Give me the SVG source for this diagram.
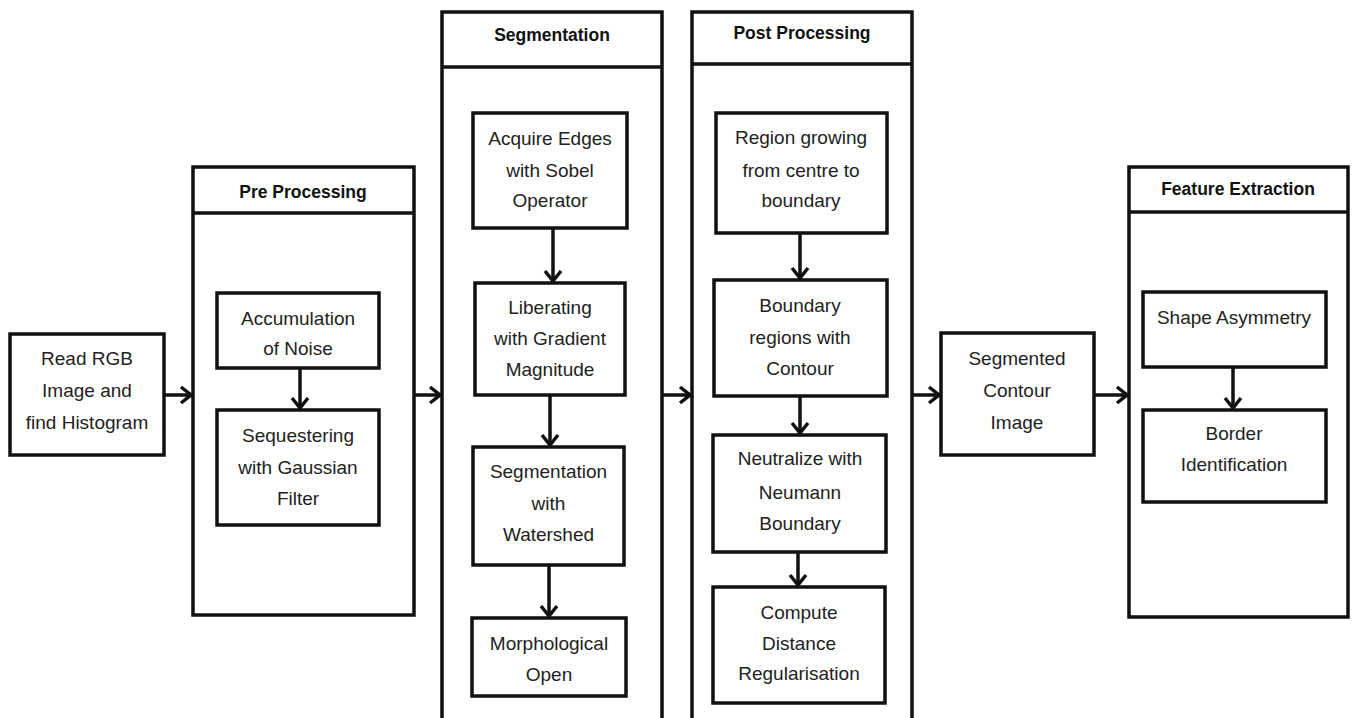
<svg xmlns="http://www.w3.org/2000/svg" width="1352" height="718" viewBox="0 0 1352 718">
<style>
.box{fill:#fff;stroke:#111;stroke-width:3.5}
.cont{fill:#fff;stroke:#111;stroke-width:3.5}
.t{font-family:"Liberation Sans",Arial,sans-serif;font-size:19px;fill:#222;text-anchor:middle}
.h{font-family:"Liberation Sans",Arial,sans-serif;font-size:17.5px;font-weight:bold;fill:#111;text-anchor:middle}
.c{fill:none;stroke:#111;stroke-width:3.5}
</style>
<defs>
<marker id="ah" viewBox="0 0 14 20" refX="12" refY="10" markerWidth="14" markerHeight="20" markerUnits="userSpaceOnUse" orient="auto">
<path d="M2,2 L12,10 L2,18" fill="none" stroke="#111" stroke-width="3.5"/>
</marker>
</defs>
<rect width="1352" height="718" fill="#fff"/>

<g id="read">
<rect class="box" x="10" y="334" width="154" height="121"/>
<text class="t" x="87" y="365">Read RGB</text>
<text class="t" x="87" y="397">Image and</text>
<text class="t" x="87" y="429">find Histogram</text>
</g>

<g id="preprocessing">
<rect class="cont" x="193" y="167" width="221" height="448"/>
<line class="cont" x1="193" y1="213" x2="414" y2="213"/>
<text class="h" x="303" y="198">Pre Processing</text>
</g>
<g id="accumulation">
<rect class="box" x="217" y="293" width="162" height="75"/>
<text class="t" x="298" y="325">Accumulation</text>
<text class="t" x="298" y="355">of Noise</text>
</g>
<g id="sequestering">
<rect class="box" x="217" y="410" width="162" height="115"/>
<text class="t" x="298" y="442">Sequestering</text>
<text class="t" x="298" y="474">with Gaussian</text>
<text class="t" x="298" y="505">Filter</text>
</g>

<g id="segmentation">
<path class="cont" d="M442,725 V12 H662 V725"/>
<line class="cont" x1="442" y1="67" x2="662" y2="67"/>
<text class="h" x="552" y="41">Segmentation</text>
</g>
<g id="acquire">
<rect class="box" x="473" y="113" width="154" height="115"/>
<text class="t" x="550" y="145">Acquire Edges</text>
<text class="t" x="550" y="177">with Sobel</text>
<text class="t" x="550" y="207">Operator</text>
</g>
<g id="liberating">
<rect class="box" x="475" y="283" width="150" height="112"/>
<text class="t" x="550" y="314">Liberating</text>
<text class="t" x="550" y="345">with Gradient</text>
<text class="t" x="550" y="376">Magnitude</text>
</g>
<g id="watershed">
<rect class="box" x="473" y="447" width="151" height="118"/>
<text class="t" x="548.5" y="478">Segmentation</text>
<text class="t" x="548.5" y="510">with</text>
<text class="t" x="548.5" y="541">Watershed</text>
</g>
<g id="morphological">
<rect class="box" x="472" y="618" width="154" height="78"/>
<text class="t" x="549" y="650">Morphological</text>
<text class="t" x="549" y="681">Open</text>
</g>

<g id="postprocessing">
<path class="cont" d="M692,725 V12 H912 V725"/>
<line class="cont" x1="692" y1="64" x2="912" y2="64"/>
<text class="h" x="802" y="39">Post Processing</text>
</g>
<g id="region">
<rect class="box" x="716" y="113" width="171" height="120"/>
<text class="t" x="801" y="144">Region growing</text>
<text class="t" x="801" y="177">from centre to</text>
<text class="t" x="801" y="207">boundary</text>
</g>
<g id="boundary">
<rect class="box" x="714" y="280" width="173" height="116"/>
<text class="t" x="800" y="312">Boundary</text>
<text class="t" x="800" y="344">regions with</text>
<text class="t" x="800" y="375">Contour</text>
</g>
<g id="neutralize">
<rect class="box" x="713" y="435" width="173" height="117"/>
<text class="t" x="800" y="465">Neutralize with</text>
<text class="t" x="800" y="499">Neumann</text>
<text class="t" x="800" y="530">Boundary</text>
</g>
<g id="compute">
<rect class="box" x="713" y="587" width="172" height="116"/>
<text class="t" x="799" y="619">Compute</text>
<text class="t" x="799" y="650">Distance</text>
<text class="t" x="799" y="680">Regularisation</text>
</g>

<g id="segmented">
<rect class="box" x="941" y="333" width="153" height="122"/>
<text class="t" x="1017" y="365">Segmented</text>
<text class="t" x="1017" y="397">Contour</text>
<text class="t" x="1017" y="429">Image</text>
</g>

<g id="feature">
<rect class="cont" x="1129" y="167" width="219" height="450"/>
<line class="cont" x1="1129" y1="212" x2="1348" y2="212"/>
<text class="h" x="1238" y="195">Feature Extraction</text>
</g>
<g id="shape">
<rect class="box" x="1143" y="292" width="183" height="75"/>
<text class="t" x="1234" y="324">Shape Asymmetry</text>
</g>
<g id="border">
<rect class="box" x="1143" y="410" width="183" height="92"/>
<text class="t" x="1234" y="440">Border</text>
<text class="t" x="1234" y="471">Identification</text>
</g>

<g id="connectors" class="c" marker-end="url(#ah)">
<line x1="164" y1="395" x2="191" y2="395"/>
<line x1="414" y1="395" x2="440" y2="395"/>
<line x1="662" y1="395" x2="690" y2="395"/>
<line x1="912" y1="395" x2="939" y2="395"/>
<line x1="1094" y1="395" x2="1127" y2="395"/>
<line x1="300" y1="368" x2="300" y2="408"/>
<line x1="553" y1="228" x2="553" y2="281"/>
<line x1="550" y1="395" x2="550" y2="445"/>
<line x1="549" y1="565" x2="549" y2="616"/>
<line x1="800" y1="233" x2="800" y2="278"/>
<line x1="800" y1="396" x2="800" y2="433"/>
<line x1="798" y1="552" x2="798" y2="585"/>
<line x1="1233" y1="367" x2="1233" y2="408"/>
</g>
</svg>
